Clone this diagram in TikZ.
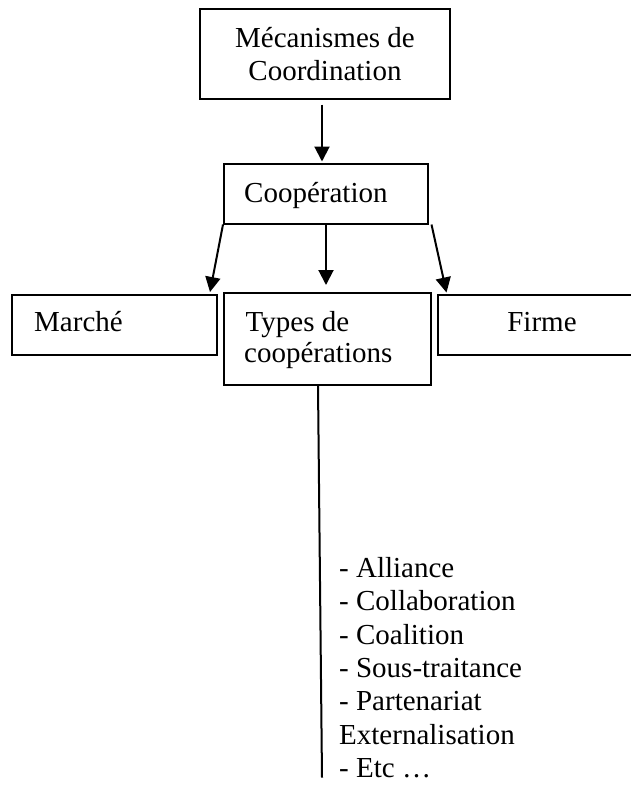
\documentclass[tikz,border=0pt]{standalone}
\usepackage{fontspec}
\setmainfont{Liberation Serif}
\usetikzlibrary{arrows.meta}

\begin{document}
\begin{tikzpicture}[x=1pt, y=-1pt,
  box/.style={draw, line width=2pt, rectangle, inner sep=0pt},
  txt/.style={inner sep=0pt, font=\fontsize{29}{33.3}\selectfont},
  arr/.style={line width=2pt, -{Triangle[width=15pt,length=15pt]}}]
  \useasboundingbox (0,0) rectangle (631,785);

  % frames
  \node[box, minimum width=249.5, minimum height=90.5] (top)    at (324.75,53.75) {};
  \node[box, minimum width=204,   minimum height=60]   (coop)   at (326,193.5)    {};
  \node[box, minimum width=204.5, minimum height=60]   (marche) at (114.25,325)   {};
  \node[box, minimum width=207,   minimum height=92.5] (types)  at (327.5,338.75) {};
  \node[box, minimum width=210,   minimum height=60]   (firme)  at (543,325)      {};

  % labels
  \node[txt, anchor=base] (t1) at (325,47.5) {Mécanismes de};
  \node[txt, anchor=base] (t2) at (325,80)   {Coordination};
  \node[txt, anchor=base west] (c1) at (244,202) {Coopération};
  \node[txt, anchor=base west] (m1) at (34,331.5) {Marché};
  \node[txt, anchor=base west] (y1) at (245.5,331.5) {Types de};
  \node[txt, anchor=base west] (y2) at (244,362.5) {coopérations};
  \node[txt, anchor=base] (f1) at (542,331.5) {Firme};

  % list of cooperation types
  \foreach \i/\s in {0/{- Alliance}, 1/{- Collaboration}, 2/{- Coalition},
                     3/{- Sous-traitance}, 4/{- Partenariat}, 5/{Externalisation},
                     6/{- Etc \dots}}
    \node[txt, anchor=base west] (l\i) at (339,577.5+33.35*\i) {\s};

  % connectors
  \draw[arr] ([shift={(-2.75,4.5)}]top.south) -- ([shift={(-4,-1)}]coop.north);
  \draw[arr] (coop.south west) -- ([shift={(-7.5,-2)}]marche.north east);
  \draw[arr] (coop.south) -- ([shift={(-1.5,-6.5)}]types.north);
  \draw[arr] ([shift={(2.5,0)}]coop.south east) -- ([shift={(9.5,-1.5)}]firme.north west);

  \coordinate (listend) at (322,777.5);
  \draw[line width=2pt] ([shift={(-9.5,0)}]types.south) -- (listend);
\end{tikzpicture}
\end{document}
